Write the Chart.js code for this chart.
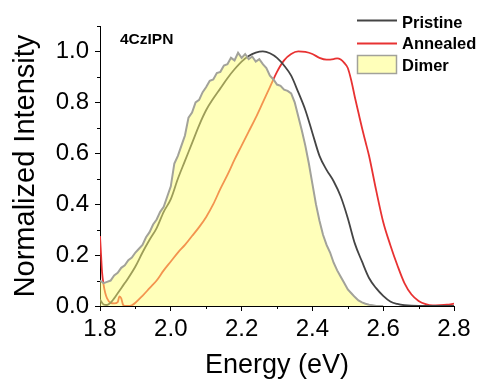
<!DOCTYPE html>
<html>
<head>
<meta charset="utf-8">
<script src="https://cdn.jsdelivr.net/npm/chart.js@4.4.1/dist/chart.umd.min.js"></script>
<style>
  html, body { margin: 0; padding: 0; background: #fff; }
  #wrap { width: 483px; height: 383px; }
</style>
</head>
<body>
<div id="wrap"><canvas id="plChart" width="483" height="383"></canvas></div>
<script>
// PL spectra, normalized
const pristineEnergy = [1.80, 1.81, 1.82, 1.83, 1.84, 1.85, 1.86, 1.87, 1.88, 1.90, 1.92, 1.94, 1.96, 1.98,
  2.00, 2.02, 2.04, 2.06, 2.08, 2.10, 2.12, 2.14, 2.16, 2.18, 2.20, 2.22, 2.24, 2.26, 2.28, 2.30,
  2.32, 2.34, 2.36, 2.38, 2.40, 2.42, 2.44, 2.46, 2.48, 2.50, 2.52, 2.54, 2.56, 2.58, 2.60, 2.62,
  2.64, 2.66, 2.70, 2.80];
const pristineIntensity = [0.025, 0.006, 0.004, 0.013, 0.03, 0.05, 0.07, 0.09, 0.11, 0.155, 0.21, 0.26, 0.306, 0.37,
  0.42, 0.50, 0.57, 0.64, 0.71, 0.77, 0.815, 0.855, 0.895, 0.93, 0.96, 0.982, 0.995, 1.0, 0.993, 0.975,
  0.945, 0.905, 0.84, 0.77, 0.68, 0.59, 0.535, 0.49, 0.43, 0.345, 0.245, 0.175, 0.11, 0.07, 0.04, 0.018,
  0.008, 0.003, 0.0, 0.0];

const annealedEnergy = [1.800, 1.803, 1.806, 1.810, 1.815, 1.820, 1.830, 1.840, 1.850, 1.855, 1.860, 1.865,
  1.87, 1.88, 1.89, 1.90, 1.92, 1.94, 1.96, 1.98, 2.00, 2.02, 2.04, 2.06, 2.08, 2.10, 2.12, 2.14,
  2.16, 2.18, 2.20, 2.22, 2.24, 2.26, 2.28, 2.30, 2.32, 2.34, 2.36, 2.38, 2.40, 2.42, 2.44, 2.46,
  2.47, 2.48, 2.49, 2.50, 2.51, 2.52, 2.53, 2.54, 2.55, 2.56, 2.58, 2.60, 2.62, 2.64, 2.66, 2.68,
  2.70, 2.72, 2.74, 2.76, 2.78, 2.80];
const annealedIntensity = [0.275, 0.20, 0.13, 0.085, 0.05, 0.03, 0.012, 0.01, 0.015, 0.038, 0.03, 0.005,
  0.0, 0.0, 0.003, 0.013, 0.04, 0.07, 0.10, 0.14, 0.175, 0.21, 0.24, 0.275, 0.31, 0.35, 0.40, 0.46,
  0.515, 0.575, 0.63, 0.685, 0.74, 0.80, 0.86, 0.92, 0.965, 0.99, 1.0, 0.998, 0.99, 0.975, 0.968, 0.97,
  0.973, 0.968, 0.955, 0.935, 0.885, 0.82, 0.76, 0.70, 0.645, 0.59, 0.455, 0.33, 0.24, 0.16, 0.09, 0.045,
  0.02, 0.007, 0.002, 0.003, 0.005, 0.009];

const dimerEnergy = [1.80, 1.81, 1.82, 1.83, 1.84, 1.85, 1.86, 1.87, 1.88, 1.89,
  1.90, 1.91, 1.92, 1.93, 1.94, 1.95, 1.96, 1.97, 1.98, 1.99,
  2.00, 2.01, 2.02, 2.03, 2.04, 2.05, 2.06, 2.07, 2.08, 2.09,
  2.10, 2.11, 2.12, 2.13, 2.14, 2.15, 2.16, 2.17, 2.18, 2.19,
  2.20, 2.21, 2.22, 2.23, 2.24, 2.25, 2.26, 2.27, 2.28, 2.29,
  2.30, 2.31, 2.32, 2.33, 2.34, 2.35, 2.36, 2.37, 2.38, 2.39,
  2.40, 2.41, 2.42, 2.43, 2.44, 2.45, 2.46, 2.47, 2.48, 2.49,
  2.50, 2.51, 2.52, 2.53, 2.54, 2.55, 2.56, 2.57, 2.58, 2.60];
const dimerIntensity = [0.10, 0.09, 0.095, 0.10, 0.12, 0.13, 0.15, 0.16, 0.18, 0.19,
  0.21, 0.225, 0.24, 0.27, 0.29, 0.32, 0.34, 0.37, 0.39, 0.43,
  0.47, 0.56, 0.59, 0.63, 0.67, 0.74, 0.76, 0.80, 0.81, 0.84,
  0.86, 0.885, 0.89, 0.915, 0.92, 0.945, 0.95, 0.975, 0.965, 0.995,
  0.975, 0.99, 0.97, 0.98, 0.96, 0.97, 0.95, 0.935, 0.905, 0.89,
  0.87, 0.865, 0.85, 0.845, 0.835, 0.80, 0.745, 0.69, 0.63, 0.56,
  0.48, 0.40, 0.335, 0.28, 0.24, 0.21, 0.17, 0.14, 0.115, 0.09,
  0.065, 0.05, 0.035, 0.022, 0.014, 0.009, 0.005, 0.003, 0.0, 0.0];

const xTicks = [1.8, 2.0, 2.2, 2.4, 2.6, 2.8];
const yTicks = [0.0, 0.2, 0.4, 0.6, 0.8, 1.0];

const FONT = "'Liberation Sans', Arial, sans-serif";
const PRISTINE = '#444444';
const ANNEALED = '#e83232';
const DIMER_FILL = 'rgba(255,255,110,0.48)';
const DIMER_LINE = '#a2a29a';

function pts(xs, ys) {
  return xs.map((x, i) => ({ x: x, y: ys[i] }));
}

function isMajor(v, list) {
  return list.some(t => Math.abs(t - v) < 1e-6);
}

// minor ticks are half length, drawn by hand on the scale positions
const minorTicks = {
  id: 'minorTicks',
  afterDraw(chart) {
    const ctx = chart.ctx;
    const xs = chart.scales.x, ys = chart.scales.y;
    ctx.save();
    ctx.strokeStyle = '#000';
    ctx.lineWidth = 1;
    ctx.beginPath();
    xs.ticks.forEach(t => {
      if (isMajor(t.value, xTicks)) return;
      const px = Math.round(xs.getPixelForValue(t.value)) + 0.5;
      ctx.moveTo(px, xs.top);
      ctx.lineTo(px, xs.top + 3);
    });
    ys.ticks.forEach(t => {
      if (isMajor(t.value, yTicks)) return;
      const py = Math.round(ys.getPixelForValue(t.value)) + 0.5;
      ctx.moveTo(ys.right, py);
      ctx.lineTo(ys.right - 3, py);
    });
    ctx.stroke();
    ctx.restore();
  }
};

// legend and sample label
const annotations = {
  id: 'annotations',
  afterDraw(chart) {
    const ctx = chart.ctx;
    ctx.save();
    ctx.fillStyle = '#000';
    ctx.textBaseline = 'alphabetic';
    ctx.font = 'bold 15.5px ' + FONT;
    ctx.fillText('4CzIPN', 120, 44);

    const ds = chart.data.datasets;
    const x0 = 357, x1 = 397;
    ctx.lineWidth = 2;
    ctx.strokeStyle = ds[1].borderColor;
    ctx.beginPath(); ctx.moveTo(x0, 20.5); ctx.lineTo(x1, 20.5); ctx.stroke();
    ctx.strokeStyle = ds[2].borderColor;
    ctx.beginPath(); ctx.moveTo(x0, 43.5); ctx.lineTo(x1, 43.5); ctx.stroke();
    ctx.fillStyle = ds[0].backgroundColor;
    ctx.fillRect(x0, 55, x1 - x0, 19);
    ctx.strokeStyle = ds[0].borderColor;
    ctx.lineWidth = 1.5;
    ctx.strokeRect(x0 + 0.5, 55.5, x1 - x0 - 1, 18);

    ctx.fillStyle = '#000';
    ctx.font = 'bold 16.5px ' + FONT;
    ctx.fillText(ds[1].label, 402, 28);
    ctx.fillText(ds[2].label, 402, 48.5);
    ctx.fillText(ds[0].label, 402, 70.5);
    ctx.restore();
  }
};

const ctx = document.getElementById('plChart').getContext('2d');
new Chart(ctx, {
  type: 'line',
  data: {
    datasets: [
      {
        label: 'Dimer',
        data: pts(dimerEnergy, dimerIntensity),
        borderColor: DIMER_LINE,
        backgroundColor: DIMER_FILL,
        borderWidth: 2,
        fill: 'origin',
        tension: 0,
        pointRadius: 0,
        order: 0
      },
      {
        label: 'Pristine',
        data: pts(pristineEnergy, pristineIntensity),
        borderColor: PRISTINE,
        borderWidth: 1.8,
        fill: false,
        cubicInterpolationMode: 'monotone',
        pointRadius: 0,
        order: 1
      },
      {
        label: 'Annealed',
        data: pts(annealedEnergy, annealedIntensity),
        borderColor: ANNEALED,
        borderWidth: 1.8,
        fill: false,
        cubicInterpolationMode: 'monotone',
        pointRadius: 0,
        order: 2
      }
    ]
  },
  options: {
    responsive: false,
    animation: false,
    layout: { padding: { top: 26, right: 29, left: 0, bottom: 0 } },
    plugins: {
      legend: { display: false },
      tooltip: { enabled: false }
    },
    scales: {
      x: {
        type: 'linear',
        min: 1.8,
        max: 2.8,
        afterFit(scale) { scale.height = 77; },
        ticks: {
          stepSize: 0.1,
          color: '#000',
          padding: 4,
          maxRotation: 0,
          autoSkip: false,
          font: { family: FONT, size: 24 },
          callback: v => isMajor(v, xTicks) ? v.toFixed(1) : ''
        },
        grid: {
          drawOnChartArea: false,
          tickLength: 5,
          tickColor: c => isMajor(c.tick.value, xTicks) ? '#000' : 'rgba(0,0,0,0)'
        },
        border: { color: '#000', width: 1 },
        title: {
          display: true,
          text: 'Energy (eV)',
          color: '#000',
          font: { family: FONT, size: 27 },
          padding: { top: 0, bottom: 1 }
        }
      },
      y: {
        min: 0,
        max: 1.1,
        afterFit(scale) { scale.width = 100; },
        ticks: {
          stepSize: 0.1,
          color: '#000',
          padding: 6,
          autoSkip: false,
          font: { family: FONT, size: 24 },
          callback: v => isMajor(v, yTicks) ? v.toFixed(1) : ''
        },
        grid: {
          drawOnChartArea: false,
          tickLength: 5,
          tickColor: c => isMajor(c.tick.value, yTicks) ? '#000' : 'rgba(0,0,0,0)'
        },
        border: { color: '#000', width: 1 },
        title: {
          display: true,
          text: 'Normalized Intensity',
          color: '#000',
          font: { family: FONT, size: 29 },
          padding: { top: 9, bottom: 0 }
        }
      }
    }
  },
  plugins: [minorTicks, annotations]
});
</script>
</body>
</html>
